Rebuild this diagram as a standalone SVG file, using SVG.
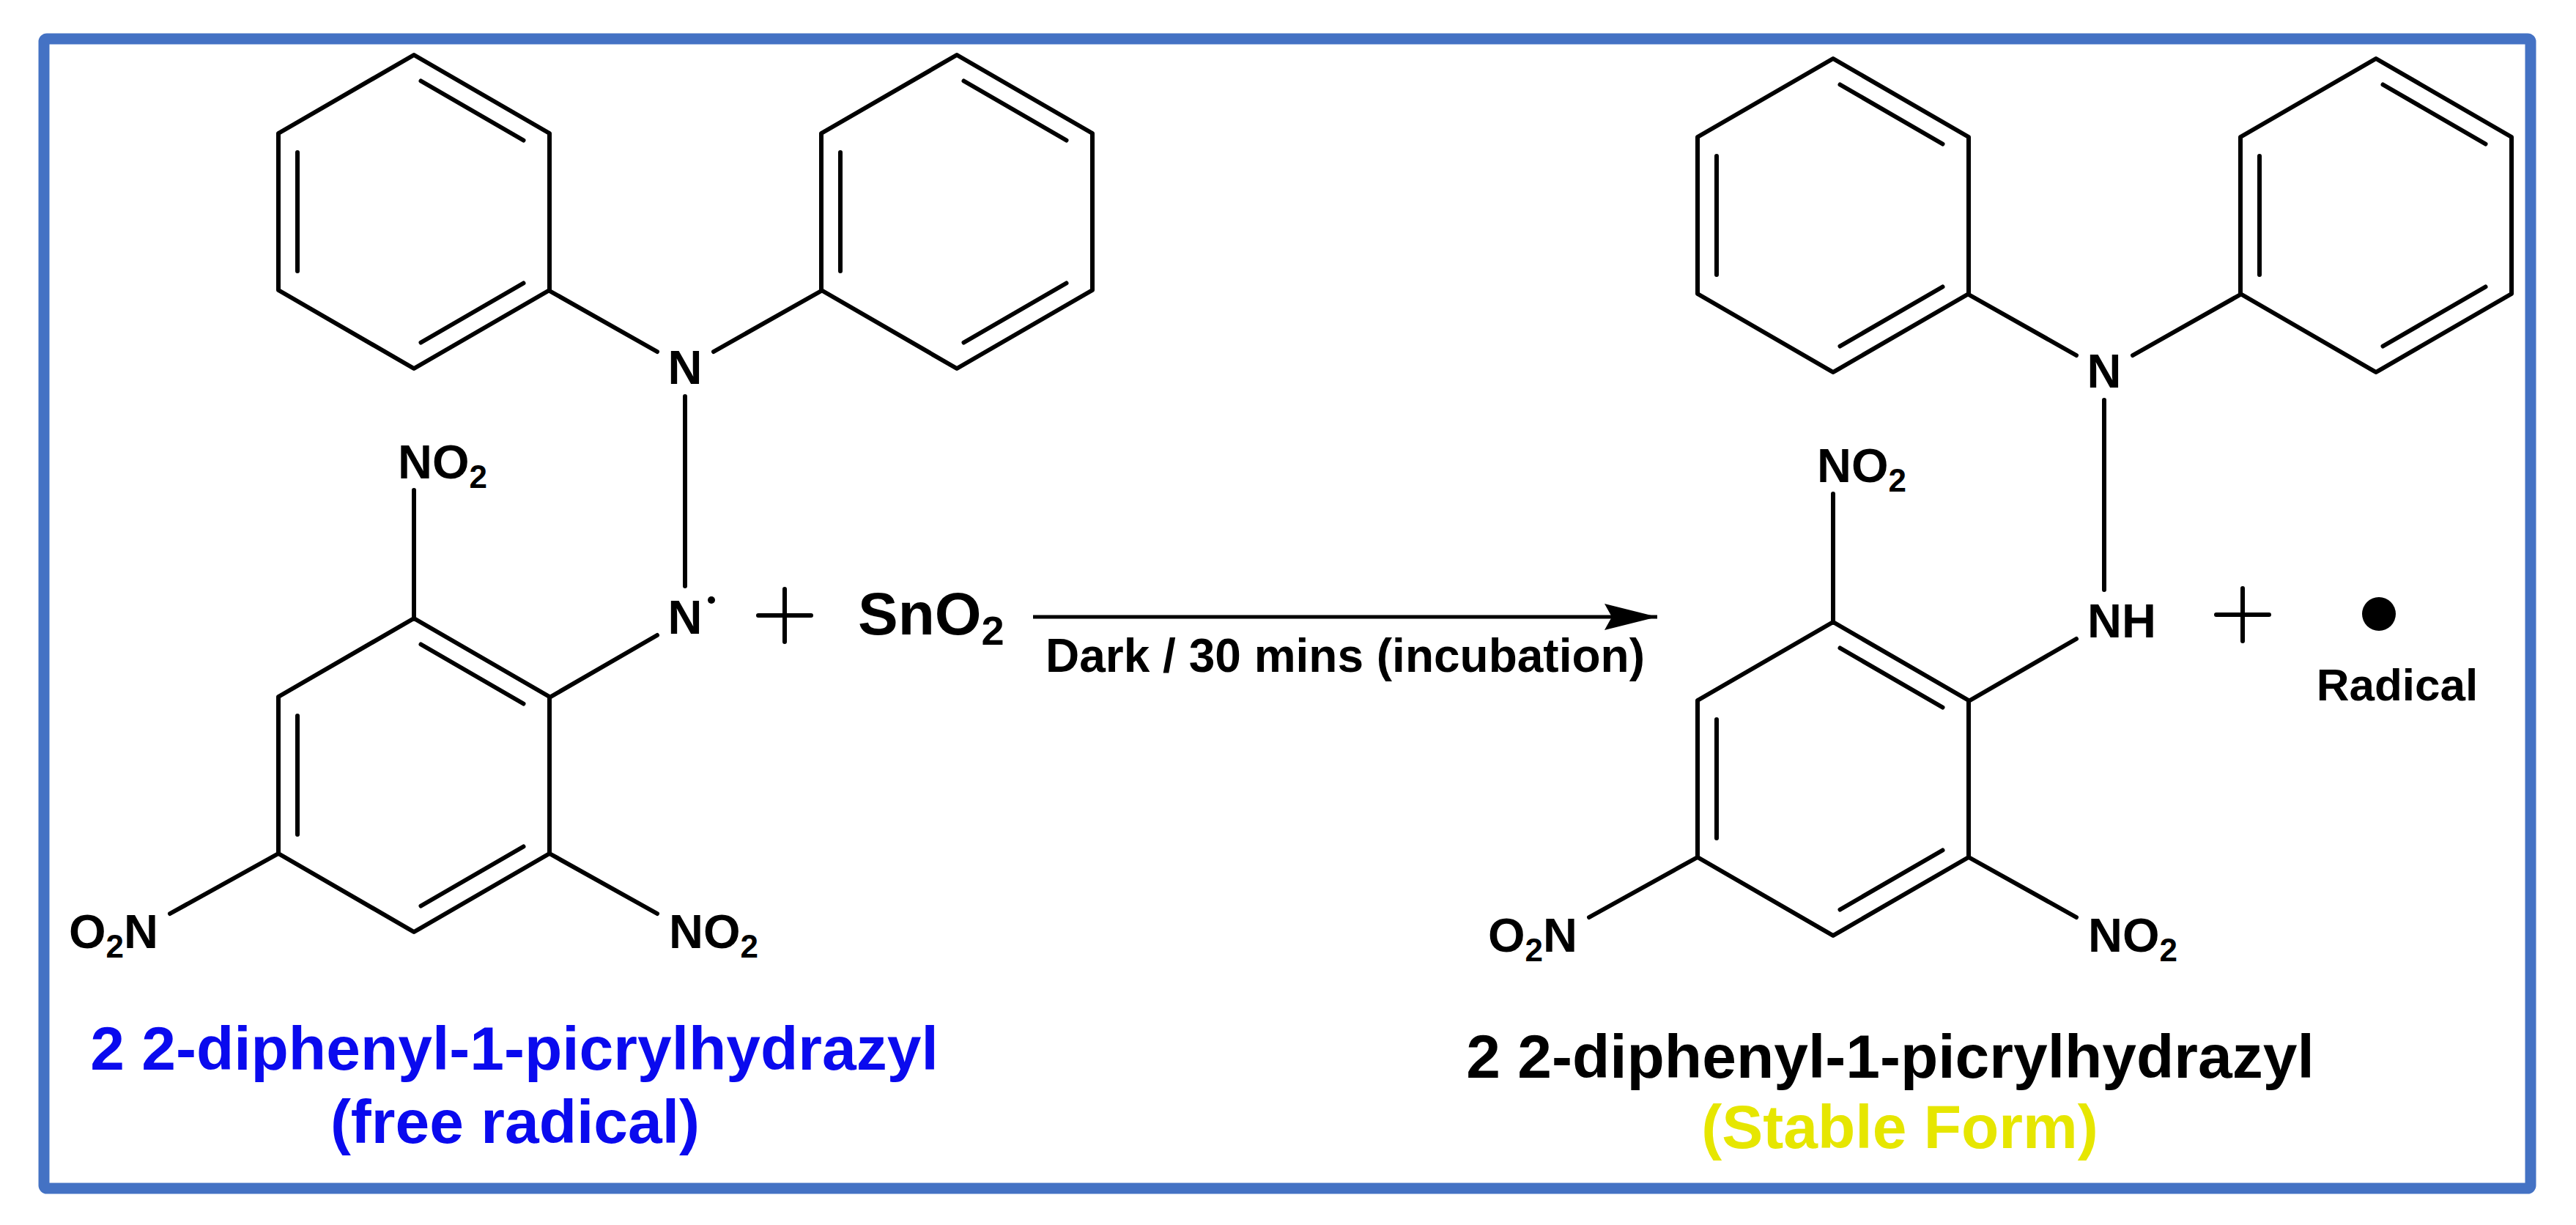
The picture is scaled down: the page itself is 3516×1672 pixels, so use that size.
<svg xmlns="http://www.w3.org/2000/svg" xmlns:xlink="http://www.w3.org/1999/xlink" width="3516" height="1672" viewBox="0 0 3516 1672">
<style>
.b{stroke:#000;stroke-width:6;fill:none;stroke-linecap:round;stroke-linejoin:round}
.t{font-family:"Liberation Sans",Arial,sans-serif;font-weight:bold;fill:#000}
.a{font-size:65px}
.s{font-size:44px}
</style>
<defs>
<g id="ring">
<path class="b" d="M0,-214 L185,-107 L185,107 L0,214 L-185,107 L-185,-107 Z"/>
<path class="b" d="M9.5,-178.5 L149.5,-97.5 M-159,-81 L-159,81 M149.5,97.5 L9.5,178.5"/>
</g>
<g id="skel">
<use xlink:href="#ring" transform="translate(565,289)"/>
<use xlink:href="#ring" transform="translate(1306,289)"/>
<use xlink:href="#ring" transform="translate(565,1058)"/>
<path class="b" d="M750,397 L897,480 M1121,397 L974,480 M935,541 L935,800 M750,952 L897,867 M565,845 L565,669 M750,1165 L897,1247 M380,1165 L232,1247"/>
<text class="t a" x="935" y="524" text-anchor="middle">N</text>
<text class="t a" x="543" y="653">NO<tspan class="s" dy="13">2</tspan></text>
<text class="t a" x="913" y="1294">NO<tspan class="s" dy="13">2</tspan></text>
<text class="t a" x="216" y="1294" text-anchor="end">O<tspan class="s" dy="13">2</tspan><tspan dy="-13">N</tspan></text>
</g>
<marker id="ah" markerWidth="80" markerHeight="40" refX="72" refY="18" orient="auto" markerUnits="userSpaceOnUse"><path d="M0,0 L72,18 L0,36 L10,18 Z" fill="#000"/></marker>
</defs>
<rect x="60" y="53" width="3394" height="1569" rx="4" fill="none" stroke="#4472C4" stroke-width="15"/>
<g id="reactant">
<use xlink:href="#skel"/>
<text class="t a" x="935" y="865" text-anchor="middle">N</text>
<circle cx="971" cy="819" r="5" fill="#000"/>
<text class="t" x="702" y="1460" text-anchor="middle" font-size="84" style="fill:#0a0aee">2 2-diphenyl-1-picrylhydrazyl</text>
<text class="t" x="703" y="1560" text-anchor="middle" font-size="84" style="fill:#0a0aee">(free radical)</text>
</g>
<g id="plus1"><path class="b" d="M1035,840 L1107,840 M1071,804 L1071,876"/></g>
<g id="sno2"><text class="t" x="1171" y="866" font-size="82">SnO<tspan font-size="56" dy="14">2</tspan></text></g>
<g id="connectors">
<line x1="1410" y1="842" x2="2262" y2="842" stroke="#000" stroke-width="5" marker-end="url(#ah)"/>
<text class="t" x="1427" y="917" font-size="64">Dark / 30 mins (incubation)</text>
</g>
<g id="product">
<use xlink:href="#skel" transform="translate(1937,5)"/>
<text class="t a" x="2849" y="870">NH</text>
<text class="t" x="2580" y="1471" text-anchor="middle" font-size="84">2 2-diphenyl-1-picrylhydrazyl</text>
<text class="t" x="2593" y="1567" text-anchor="middle" font-size="84" style="fill:#e6e600">(Stable Form)</text>
</g>
<g id="plus2"><path class="b" d="M3025,839 L3097,839 M3061,803 L3061,875"/></g>
<g id="radical">
<circle cx="3247" cy="838" r="23" fill="#000"/>
<text class="t" x="3272" y="956" text-anchor="middle" font-size="62">Radical</text>
</g>
</svg>
